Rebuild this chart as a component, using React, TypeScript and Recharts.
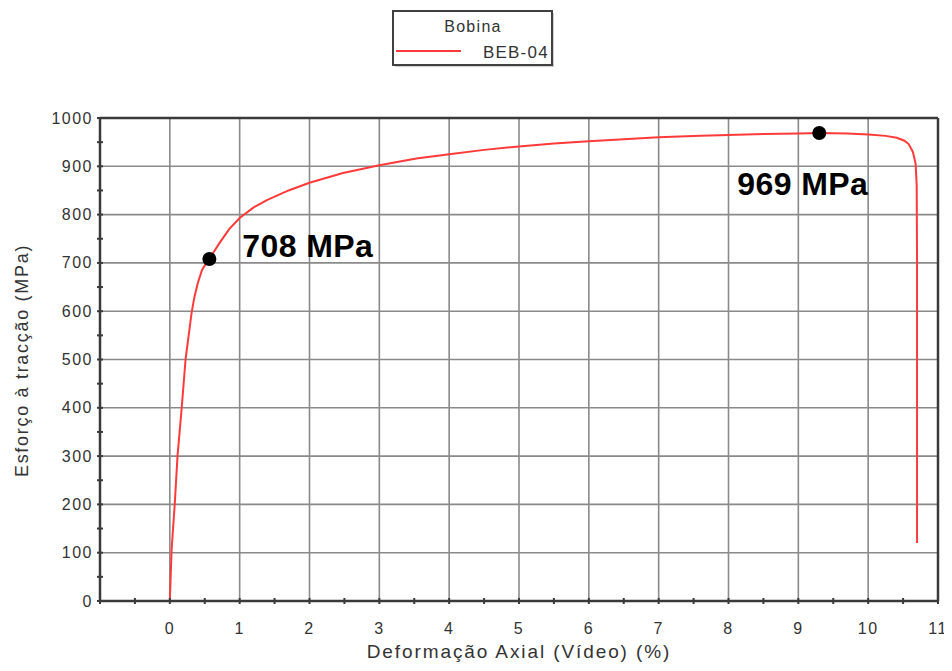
import React from 'react';
import {
  ComposedChart, Line, Scatter, XAxis, YAxis, CartesianGrid, ReferenceLine, Legend, LabelList, Label,
} from 'recharts';

// ---- data ----
const strain = [
  0, 0.025, 0.07, 0.11, 0.17, 0.225, 0.27, 0.31, 0.35, 0.40, 0.46, 0.53, 0.566, 0.64, 0.72, 0.85, 1.0, 1.2, 1.39, 1.7, 2.0,
  2.48, 3.0, 3.53, 4.0, 4.5, 5.0, 5.5, 6.0, 6.5, 7.0, 7.6, 8.0, 8.5, 9.0, 9.3, 9.7, 10.0, 10.25, 10.41,
  10.52, 10.58, 10.64, 10.68, 10.695, 10.70, 10.70, 10.70,
];
const stress = [
  0, 105, 200, 300, 400, 500, 550, 595, 628, 658, 685, 702, 708, 725, 743, 770, 793, 815, 830, 850, 866,
  886, 902, 916, 925, 934, 941, 947, 952, 956, 960, 963, 965, 967, 968, 969, 968, 966, 963, 959,
  953, 946, 930, 905, 860, 700, 400, 120,
];
const markStrain = [0.566, 9.3];
const markStress = [708, 969];
const markLabels = ['708 MPa', '969 MPa'];

const xTicks = [-1, -0.5, 0, 0.5, 1, 1.5, 2, 2.5, 3, 3.5, 4, 4.5, 5, 5.5, 6, 6.5, 7, 7.5, 8, 8.5, 9, 9.5, 10, 10.5, 11];
const yTicks = [0, 50, 100, 150, 200, 250, 300, 350, 400, 450, 500, 550, 600, 650, 700, 750, 800, 850, 900, 950, 1000];
const xGrid = [0, 1, 2, 3, 4, 5, 6, 7, 8, 9, 10];
const yGrid = [100, 200, 300, 400, 500, 600, 700, 800, 900];

const legendTitle = 'Bobina';
const seriesName = 'BEB-04';
const xTitle = 'Deformação Axial (Vídeo) (%)';
const yTitle = 'Esforço à tracção (MPa)';

const curve = strain.map((s, i) => ({ strain: s, stress: stress[i] }));
const marks = markStrain.map((s, i) => ({ strain: s, stress: markStress[i], label: markLabels[i] }));

const FONT = '"Liberation Sans", Arial, sans-serif';
const TXT = '#333333';
const AX = '#3a3a3a';
const RED = '#ff3a3a';

const XTick = (props: any) => {
  const { x, y, payload } = props;
  const v = payload.value as number;
  const major = Number.isInteger(v) && v >= 0;
  return (
    <g>
      <line x1={x} x2={x} y1={y - 3} y2={y + 3} stroke={AX} strokeWidth={2} />
      {major && (
        <text x={x} y={y + 27} textAnchor="middle" dominantBaseline="central" fontFamily={FONT}
          fontSize={16} letterSpacing={1.5} fill={TXT}>{v}</text>
      )}
    </g>
  );
};

const YTick = (props: any) => {
  const { x, y, payload } = props;
  const v = payload.value as number;
  const major = v % 100 === 0;
  return (
    <g>
      <line x1={x - 3} x2={x + 3} y1={y} y2={y} stroke={AX} strokeWidth={2} />
      {major && (
        <text x={x - 7} y={y} textAnchor="end" dominantBaseline="central" fontFamily={FONT}
          fontSize={16} letterSpacing={1.5} fill={TXT}>{v}</text>
      )}
    </g>
  );
};

const labelOffsets = [
  { dx: 33, dy: -2, anchor: 'start' },
  { dx: -82, dy: 62, anchor: 'start' },
];

const MarkLabel = (props: any) => {
  const { x, y, width, height, index, value } = props;
  const cx = x + (width || 0) / 2;
  const cy = y + (height || 0) / 2;
  const o = labelOffsets[index] || labelOffsets[0];
  return (
    <text x={cx + o.dx} y={cy + o.dy} textAnchor={o.anchor} fontFamily={FONT} fontWeight="bold"
      fontSize={32} letterSpacing={0.4} fill="#000">{value}</text>
  );
};

const Dot = (props: any) => {
  const { cx, cy } = props;
  return <circle cx={cx} cy={cy} r={7} fill="#000" />;
};

const LegendBox = () => (
  <svg width={164} height={60} style={{ display: 'block', overflow: 'visible' }}>
    <rect x={3} y={3} width={159} height={54} fill="#cfcfcf" />
    <rect x={1} y={1} width={159} height={54} fill="#fff" stroke="#404040" strokeWidth={2} />
    <text x={81} y={16} textAnchor="middle" dominantBaseline="central" fontFamily={FONT}
      fontSize={16} letterSpacing={1.3} fill={TXT}>{legendTitle}</text>
    <line x1={4} x2={69} y1={41} y2={41} stroke={RED} strokeWidth={2} />
    <text x={91} y={42} textAnchor="start" dominantBaseline="central" fontFamily={FONT}
      fontSize={17} letterSpacing={1.2} fill={TXT}>{seriesName}</text>
  </svg>
);

export default function App() {
  return (
    <div style={{ marginBottom: -8 }}>
      <ComposedChart width={944} height={663} data={curve}
        margin={{ top: 110, right: 14, bottom: 25, left: 0 }}>
        <CartesianGrid stroke="#8a8a8a" strokeWidth={1.6} verticalValues={xGrid} horizontalValues={yGrid} />
        <XAxis dataKey="strain" type="number" domain={[-1, 11]} ticks={xTicks} interval={0}
          allowDataOverflow tickSize={0} tickMargin={0} tickLine={false} height={45}
          axisLine={{ stroke: AX, strokeWidth: 2.5 }} tick={<XTick />}>
          <Label content={(p: any) => {
            const vb = p.viewBox;
            return (
              <text x={vb.x + vb.width / 2} y={vb.y + 50} textAnchor="middle" dominantBaseline="central"
                fontFamily={FONT} fontSize={19} letterSpacing={1.9} fill={TXT}>{xTitle}</text>
            );
          }} />
        </XAxis>
        <YAxis type="number" domain={[0, 1000]} ticks={yTicks} interval={0} allowDataOverflow
          tickSize={0} tickMargin={0} tickLine={false} width={92}
          axisLine={{ stroke: AX, strokeWidth: 2.5 }} tick={<YTick />}>
          <Label content={(p: any) => {
            const vb = p.viewBox;
            const cx = 14;
            const cy = vb.y + vb.height / 2 + 1;
            return (
              <text x={cx} y={cy} transform={`rotate(-90 ${cx} ${cy})`} textAnchor="middle"
                dominantBaseline="central" fontFamily={FONT} fontSize={18} letterSpacing={1.7}
                fill={TXT}>{yTitle}</text>
            );
          }} />
        </YAxis>
        <ReferenceLine y={1000} stroke={AX} strokeWidth={2.5} />
        <ReferenceLine x={11} stroke={AX} strokeWidth={2.5} />
        <Legend verticalAlign="middle" align="center" layout="horizontal"
          wrapperStyle={{ top: 2, left: 384, width: 164, height: 60 }} content={() => <LegendBox />} />
        <Line type="linear" dataKey="stress" stroke={RED} strokeWidth={2} dot={false}
          isAnimationActive={false} name={seriesName} />
        <Scatter data={marks} dataKey="stress" shape={<Dot />} isAnimationActive={false} legendType="none">
          <LabelList dataKey="label" content={<MarkLabel />} />
        </Scatter>
      </ComposedChart>
    </div>
  );
}
